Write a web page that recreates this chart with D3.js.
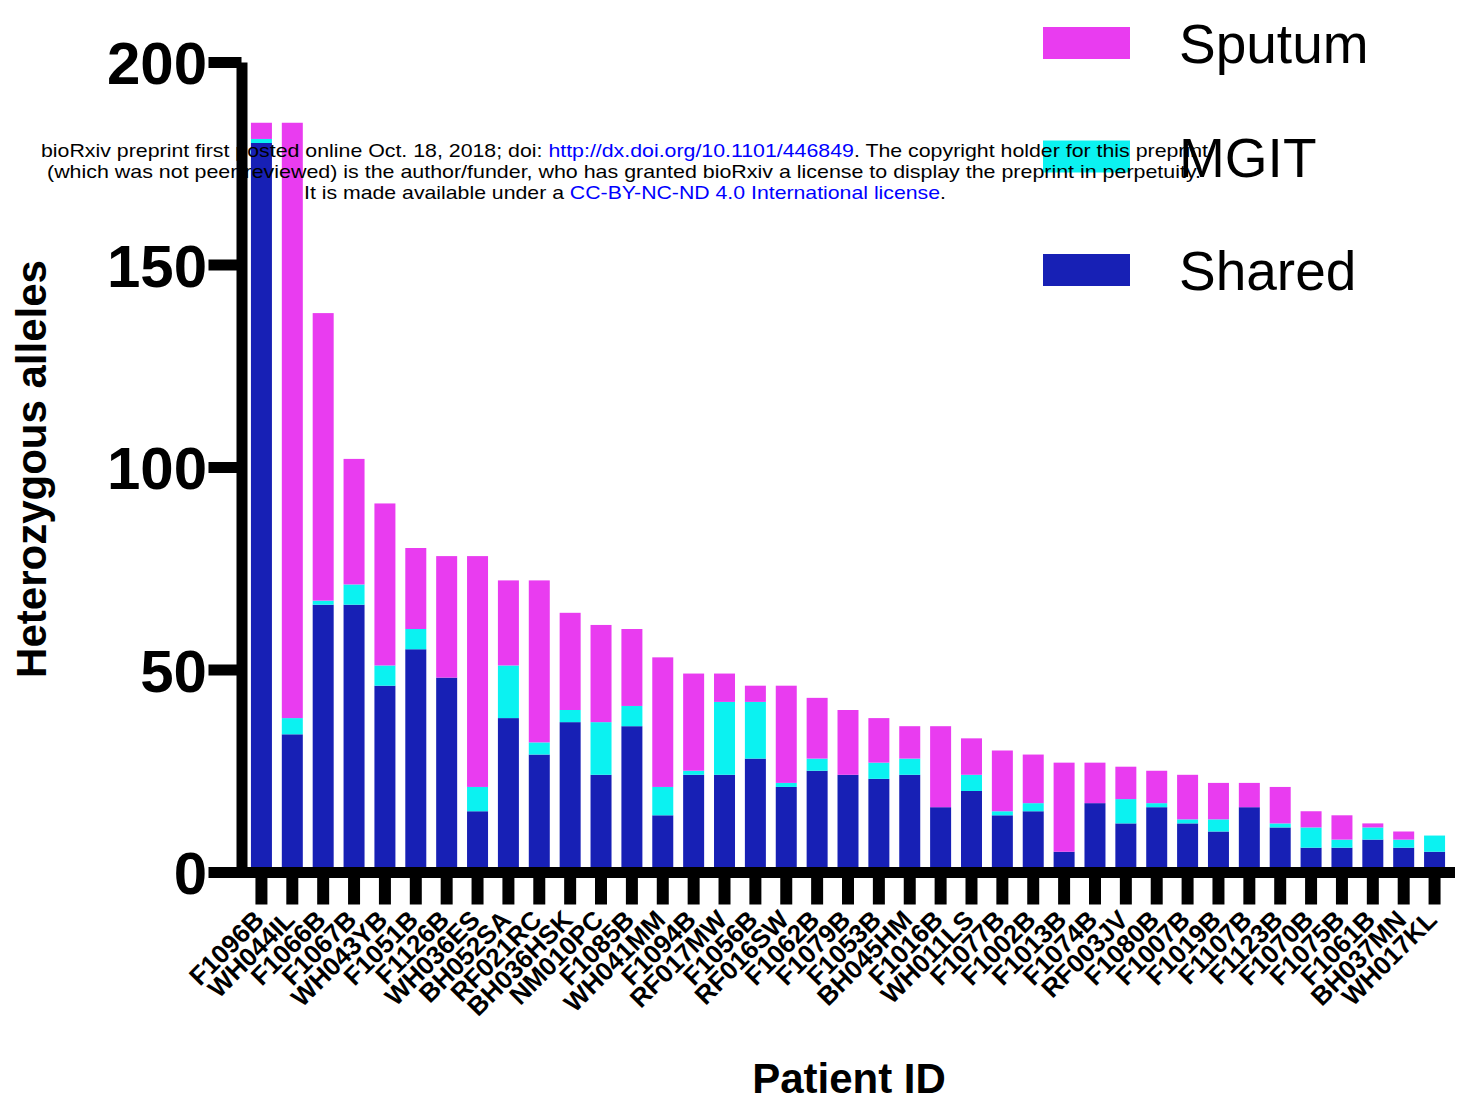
<!DOCTYPE html>
<head>
    <meta charset="utf-8">
    <script src="https://d3js.org/d3.v7.min.js"></script>
</head>
<style>
    body { margin: 0; background: #fff; }
    text { font-family: "Liberation Sans", Arial, Helvetica, sans-serif; }
</style>
<body>
    <div id="chart"></div>
</body>

<script>
    // patients in plotted order
    const patients = ["F1096B","WH044IL","F1066B","F1067B","WH043YB","F1051B","F1126B","WH036ES",
        "BH052SA","RF021RC","BH036HSK","NM010PC","F1085B","WH041MM","F1094B","RF017MW","F1056B",
        "RF016SW","F1062B","F1079B","F1053B","BH045HM","F1016B","WH011LS","F1077B","F1002B",
        "F1013B","F1074B","RF003JV","F1080B","F1007B","F1019B","F1107B","F1123B","F1070B",
        "F1075B","F1061B","BH037MN","WH017KL"];

    // heterozygous alleles per group
    const shared = [180,34,66,66,46,55,48,15,38,29,37,24,36,14,24,24,28,21,25,24,23,24,16,20,14,15,5,17,12,16,12,10,16,11,6,6,8,6,5];
    const mgit   = [1,4,1,5,5,5,0,6,13,3,3,13,5,7,1,18,14,1,3,0,4,4,0,4,1,2,0,0,6,1,1,3,0,1,5,2,3,2,4];
    const sputum = [4,147,71,31,40,20,30,57,21,40,24,24,19,32,24,7,4,24,15,16,11,8,20,9,15,12,22,10,8,8,11,9,6,9,4,6,1,2,0];

    const yTicks = [0, 50, 100, 150, 200];
    const keys = ["shared", "mgit", "sputum"];
    const legendLabels = ["Sputum", "MGIT", "Shared"];
    const colors = {sputum: "#e93cf0", mgit: "#0bf2f1", shared: "#1720b5"};

    const W = 1461, H = 1102;
    const svg = d3.select("#chart")
        .append("svg")
        .attr("width", W)
        .attr("height", H);

    const rows = patients.map((p, i) => ({
        patient: p, shared: shared[i], mgit: mgit[i], sputum: sputum[i]
    }));

    const x = d3.scaleBand()
        .domain(patients)
        .range([246, 1450])
        .paddingInner(0.32)
        .paddingOuter(0.16);

    const y = d3.scaleLinear()
        .domain([0, 200])
        .range([872, 62]);

    const stacked = d3.stack().keys(keys)(rows);

    // bars
    svg.append("g")
        .selectAll("g")
        .data(stacked)
        .join("g")
        .attr("fill", d => colors[d.key])
        .selectAll("rect")
        .data(d => d)
        .join("rect")
        .attr("x", d => x(d.data.patient))
        .attr("y", d => y(d[1]))
        .attr("width", x.bandwidth())
        .attr("height", d => y(d[0]) - y(d[1]));

    // legend swatches
    const legend = svg.append("g").attr("transform", "translate(1043,27)");
    legend.selectAll("rect")
        .data(legendLabels)
        .join("rect")
        .attr("x", 0)
        .attr("y", (d, i) => i * 113.5)
        .attr("width", 87)
        .attr("height", 32)
        .attr("fill", d => colors[d.toLowerCase()]);

    // bioRxiv watermark
    const wm = svg.append("g").style("font-size", "19px").attr("fill", "#000");
    const l1 = wm.append("text").attr("x", 41).attr("y", 157)
        .attr("textLength", 1167).attr("lengthAdjust", "spacingAndGlyphs");
    l1.append("tspan").text("bioRxiv preprint first posted online Oct. 18, 2018; doi: ");
    l1.append("tspan").attr("fill", "#0000ff").text("http://dx.doi.org/10.1101/446849");
    l1.append("tspan").text(". The copyright holder for this preprint");
    wm.append("text").attr("x", 47).attr("y", 178)
        .attr("textLength", 1154).attr("lengthAdjust", "spacingAndGlyphs")
        .text("(which was not peer-reviewed) is the author/funder, who has granted bioRxiv a license to display the preprint in perpetuity.");
    const l3 = wm.append("text").attr("x", 304).attr("y", 199)
        .attr("textLength", 642).attr("lengthAdjust", "spacingAndGlyphs");
    l3.append("tspan").text("It is made available under a ");
    l3.append("tspan").attr("fill", "#0000ff").text("CC-BY-NC-ND 4.0 International license");
    l3.append("tspan").text(".");

    // y axis
    const yAxis = svg.append("g")
        .attr("transform", "translate(241.5,0)")
        .call(d3.axisLeft(y).tickValues(yTicks).tickSize(33).tickSizeOuter(0).tickPadding(1.5));
    yAxis.select(".domain").attr("stroke", "#000").attr("stroke-width", 11);
    yAxis.selectAll(".tick line").attr("stroke", "#000").attr("stroke-width", 11);
    yAxis.selectAll(".tick text")
        .attr("fill", "#000")
        .style("font-size", "60px")
        .style("font-weight", "bold")
        .attr("dy", "0.36em");

    // x axis
    const xAxis = svg.append("g")
        .attr("transform", "translate(0,872.5)")
        .call(d3.axisBottom(x).tickSize(32).tickSizeOuter(0));
    xAxis.select(".domain").remove();
    xAxis.append("line")
        .attr("x1", 236).attr("x2", 1455)
        .attr("stroke", "#000").attr("stroke-width", 11);
    xAxis.selectAll(".tick line").attr("stroke", "#000").attr("stroke-width", 12);
    xAxis.selectAll(".tick text")
        .attr("fill", "#000")
        .attr("x", 0).attr("y", 0).attr("dy", 0)
        .attr("transform", "translate(4,49) rotate(-45)")
        .style("text-anchor", "end")
        .style("font-size", "26px")
        .style("font-weight", "bold");

    // legend labels
    legend.selectAll("text")
        .data(legendLabels)
        .join("text")
        .attr("x", 136)
        .attr("y", (d, i) => 36 + i * 113.5)
        .style("font-size", "55px")
        .text(d => d);

    // axis titles
    svg.append("text")
        .attr("transform", "translate(46,469) rotate(-90)")
        .style("text-anchor", "middle")
        .style("font-size", "42px")
        .style("font-weight", "bold")
        .text("Heterozygous alleles");

    svg.append("text")
        .attr("x", 849)
        .attr("y", 1093)
        .style("text-anchor", "middle")
        .style("font-size", "42px")
        .style("font-weight", "bold")
        .text("Patient ID");
</script>
